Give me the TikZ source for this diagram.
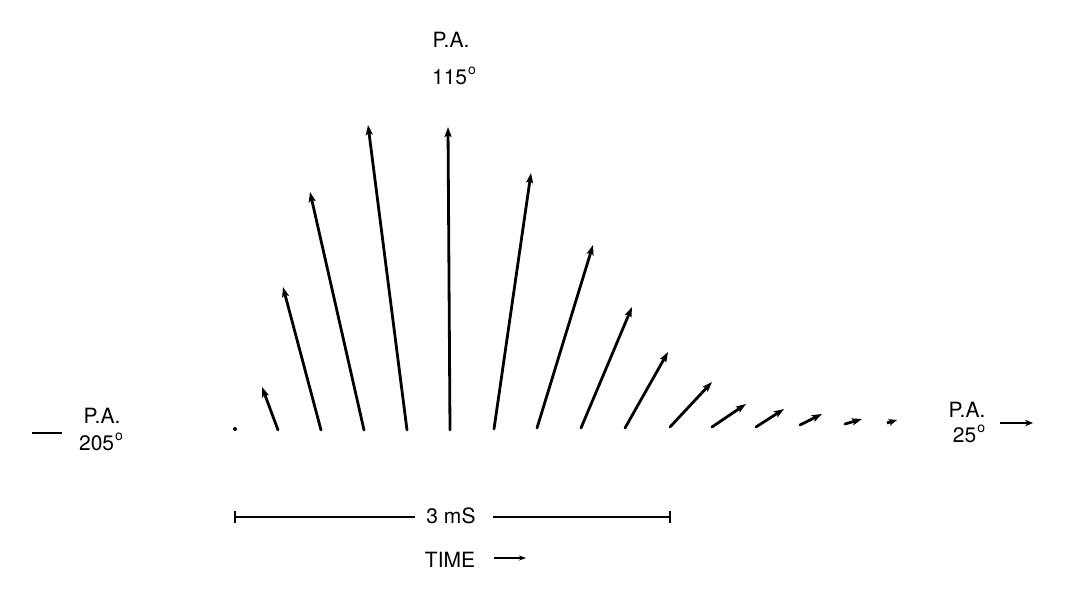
\documentclass[tikz,border=0pt]{standalone}
\usepackage{fontspec}
\setmainfont{TeX Gyre Heros}
\usetikzlibrary{arrows.meta}
\newcommand{\dg}{\kern1pt\raisebox{10pt}{\fontsize{14}{14}\selectfont o}}
\begin{document}
\begin{tikzpicture}[x=1pt,y=-1pt,
  vec/.style={line width=2.8pt, line cap=round, -{Stealth[length=10pt,width=7pt,inset=2pt]}},
  lbl/.style={font=\fontsize{21}{24}\selectfont, inner sep=0pt},
  bar/.style={line width=1.8pt},
  thinarrow/.style={line width=1.8pt, -{Stealth[length=7pt,width=5pt]}}]
\useasboundingbox[fill=white] (0,0) rectangle (1074,591);
% vectors: base / tip
\foreach \i/\bx/\by/\tx/\ty in {
  2/278/430/262/387, 3/321/430/283/287, 4/364/430/310/192,
  5/407/430/368/125, 6/450/430/448/127, 7/494/429/531/173,
  8/537/428/593/245, 9/581/428/632/307, 10/625/428/668/352,
  11/670/427/712/382, 12/712/427/746/404, 13/756/427/784/409,
  14/800/425/822/414, 15/845/424/862/419}{
  \coordinate (b\i) at (\bx,\by);
  \coordinate (t\i) at (\tx,\ty);
  \draw[vec] (b\i) -- (t\i);
}
% first (dot) and last (tiny) vectors
\coordinate (b1) at (235,429);
\fill (b1) circle (2pt);
\coordinate (b16) at (887,423);
\coordinate (t16) at (897,420);
\draw[line width=2.8pt, -{Stealth[length=8pt,width=6.5pt,inset=1.5pt]}] (b16) -- (t16);
% labels
\node[lbl, anchor=base] (top1) at (451,48) {P.A.};
\node[lbl, anchor=base] (top2) at (454,85) {115\dg};
\node[lbl, anchor=base] (left1) at (102,423) {P.A.};
\node[lbl, anchor=base] (left2) at (101,450) {205\dg};
\coordinate (ld1) at (32,433);
\coordinate (ld2) at (62,433);
\draw[line width=2.8pt] (ld1) -- (ld2);
\node[lbl, anchor=base] (right1) at (967,417) {P.A.};
\node[lbl, anchor=base] (right2) at (969,442) {25\dg};
\coordinate (ra1) at (1000,423);
\coordinate (ra2) at (1033,423);
\draw[line width=2.8pt, -{Stealth[length=8pt,width=6.5pt]}] (ra1) -- (ra2);
% scale bar
\node[lbl] (sb) at (451,516) {3 mS};
\coordinate (s1) at (235,517);
\coordinate (s1e) at (415,517);
\coordinate (s2s) at (493,517);
\coordinate (s2) at (670,517);
\draw[bar] (s1) -- (s1e);
\draw[bar] (s2s) -- (s2);
\draw[bar] ([yshift=-6pt]s1) -- ([yshift=6pt]s1);
\draw[bar] ([yshift=-6pt]s2) -- ([yshift=6pt]s2);
\node[lbl] (time) at (450,560) {TIME};
\coordinate (ta1) at (494,558);
\coordinate (ta2) at (526,558);
\draw[thinarrow] (ta1) -- (ta2);
\end{tikzpicture}
\end{document}
